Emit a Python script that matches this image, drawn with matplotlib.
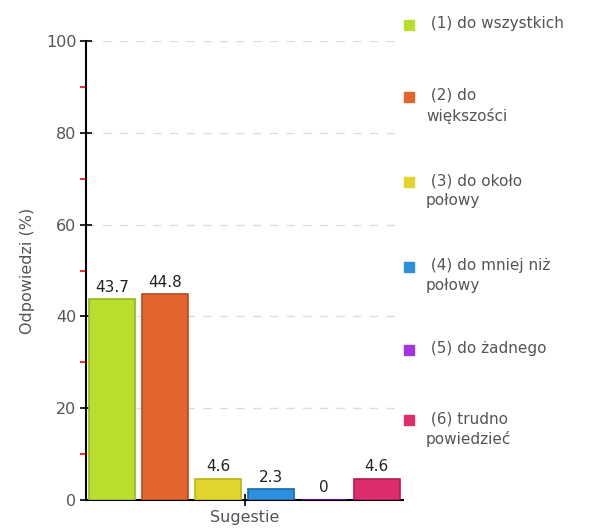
import matplotlib.pyplot as plt
from matplotlib.patches import Rectangle

# answers (%)
labels = [" (1) do wszystkich", " (2) do\nwiększości", " (3) do około\npołowy",
          " (4) do mniej niż\npołowy", " (5) do żadnego", " (6) trudno\npowiedzieć"]
values = [43.7, 44.8, 4.6, 2.3, 0, 4.6]
value_text = ["43.7", "44.8", "4.6", "2.3", "0", "4.6"]
colors = ["#bade2e", "#e2652d", "#e0d52c", "#2c90dc", "#a234e2", "#de2d6e"]
edges = ["#94b81c", "#b94a1c", "#bfb214", "#1a66ad", "#7c18b8", "#b51a52"]

W, H = 608, 529
fig = plt.figure(figsize=(W / 100, H / 100), dpi=100)
ax = fig.add_axes([86 / W, 1 - 500 / H, 317 / W, 459 / H])

x = [i + 0.5 for i in range(len(values))]
ax.bar(x, values, width=0.87, color=colors, edgecolor=edges, linewidth=1.2, zorder=3)
for xi, v, t in zip(x, values, value_text):
    ax.text(xi, v + 1.0, t, ha="center", va="bottom", fontsize=11, color="#222222", zorder=4)

ax.set_xlim(0, 6)
ax.set_ylim(0, 100)
ax.set_yticks([0, 20, 40, 60, 80, 100])
ax.set_yticks([10, 30, 50, 70, 90], minor=True)
ax.tick_params(axis="y", which="major", direction="inout", length=8, width=1.2,
               labelsize=11.5, labelcolor="#555555", pad=3)
ax.tick_params(axis="y", which="minor", direction="out", length=4, width=1.2, color="red")
ax.set_xticks([3])
ax.set_xticklabels([""])
ax.tick_params(axis="x", direction="inout", length=8, width=1.2)
ax.grid(axis="y", color="#dddddd", linestyle=(0, (6, 6)), linewidth=1, zorder=0)
for s in ["top", "right"]:
    ax.spines[s].set_visible(False)
ax.spines["left"].set_linewidth(1.5)
ax.spines["bottom"].set_linewidth(1.5)
ax.set_ylabel("Odpowiedzi (%)", fontsize=11.5, color="#555555", labelpad=8)
ax.set_xlabel("Sugestie", fontsize=11.5, color="#555555", labelpad=0)

# legend drawn by hand
ys = [25, 97, 182, 267, 350, 420]
for y, lab, c in zip(ys, labels, colors):
    fig.patches.append(Rectangle((404 / W, 1 - (y + 5) / H), 10 / W, 10 / H,
                                 transform=fig.transFigure, color=c))
    fig.text(426 / W, 1 - (y - 9) / H, lab, ha="left", va="top", fontsize=11,
             color="#555555", linespacing=1.4)

fig.savefig("out.png", dpi=100)
